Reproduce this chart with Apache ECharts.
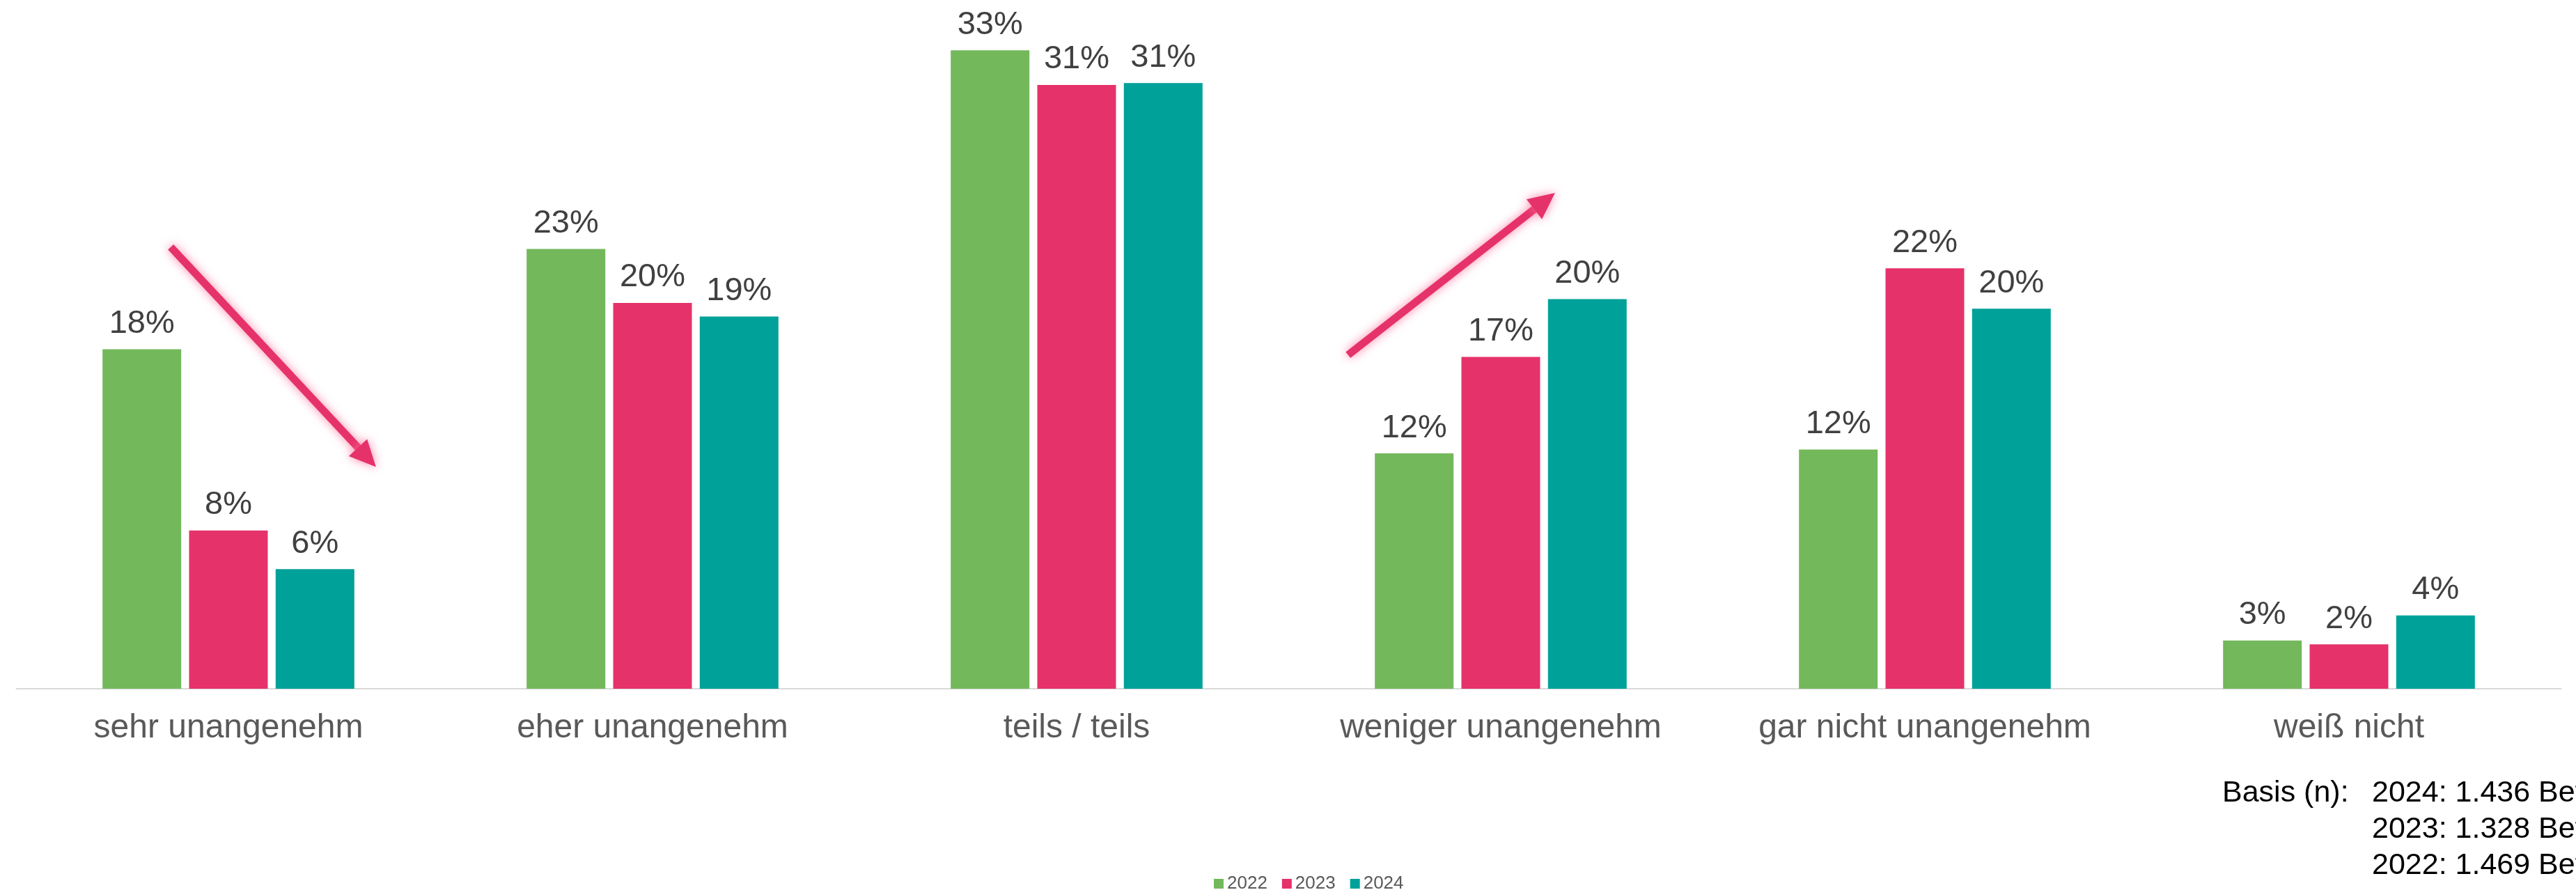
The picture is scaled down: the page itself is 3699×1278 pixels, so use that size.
<!DOCTYPE html>
<html>
<head>
<meta charset="utf-8">
<script src="https://cdn.jsdelivr.net/npm/echarts@6/dist/echarts.min.js"></script>
<style>
html, body { margin: 0; padding: 0; background: #fff; }
#main { width: 3699px; height: 1278px; }
</style>
</head>
<body>
<div id="main"></div>
<script>
var categories = ['sehr unangenehm', 'eher unangenehm', 'teils / teils', 'weniger unangenehm', 'gar nicht unangenehm', 'weiß nicht'];
var years = ['2022', '2023', '2024'];
var values2022 = [17.6, 22.8, 33.1, 12.2, 12.4, 2.5];
var values2023 = [8.2, 20.0, 31.3, 17.2, 21.8, 2.3];
var values2024 = [6.2, 19.3, 31.4, 20.2, 19.7, 3.8];
var colors = ['#73b85b', '#e6326a', '#00a199'];
var basisLines = ['2024: 1.436 Befragte', '2023: 1.328 Befragte', '2022: 1.469 Befragte'];
// Trendpfeile: [Kategorie-Position, Wert in %]
var arrowDown = [[-0.136, 22.9], [0.348, 11.5]];
var arrowUp = [[2.64, 17.3], [3.128, 25.7]];

var fontFam = '"Liberation Sans", Arial, sans-serif';
var myChart = echarts.init(document.getElementById('main'));

function barSeries(name, data, color) {
    return {
        name: name,
        type: 'bar',
        data: data,
        barWidth: 113,
        barGap: '10%',
        itemStyle: { color: color },
        label: {
            show: true,
            position: 'top',
            distance: 13,
            fontSize: 47,
            fontFamily: fontFam,
            color: '#404040',
            formatter: function (p) { return Math.round(p.value) + '%'; }
        }
    };
}

var option = {
    animation: false,
    backgroundColor: '#fff',
    grid: { left: 23.5, right: 21.5, top: 19.5, bottom: 289 },
    legend: {
        data: years,
        left: 1738,
        top: 1251,
        icon: 'rect',
        itemWidth: 14,
        itemHeight: 14,
        itemGap: 21,
        textStyle: { fontSize: 26, color: '#595959', fontFamily: fontFam }
    },
    xAxis: {
        type: 'category',
        data: categories,
        axisLine: { lineStyle: { color: '#d9d9d9', width: 2 } },
        axisTick: { show: false },
        axisLabel: { interval: 0, margin: 33, fontSize: 48, color: '#595959', fontFamily: fontFam }
    },
    yAxis: {
        type: 'value',
        min: 0,
        max: 35,
        show: false,
        splitLine: { show: false }
    },
    series: [
        barSeries(years[0], values2022, colors[0]),
        barSeries(years[1], values2023, colors[1]),
        barSeries(years[2], values2024, colors[2])
    ]
};
myChart.setOption(option);

// Pfeile aus Datenkoordinaten berechnen
function toPx(pt) {
    var a = myChart.convertToPixel({ gridIndex: 0 }, [0, pt[1]]);
    var b = myChart.convertToPixel({ gridIndex: 0 }, [1, pt[1]]);
    return [a[0] + (b[0] - a[0]) * pt[0], a[1]];
}

function arrowGraphics(pts) {
    var s = toPx(pts[0]), t = toPx(pts[1]);
    var dx = t[0] - s[0], dy = t[1] - s[1];
    var len = Math.sqrt(dx * dx + dy * dy);
    var ux = dx / len, uy = dy / len;
    var nx = -uy, ny = ux;
    var headLen = 38, headW = 36;
    var bx = t[0] - ux * headLen, by = t[1] - uy * headLen;
    var glow = { shadowBlur: 14, shadowColor: 'rgba(255,110,155,0.85)' };
    return [
        {
            type: 'line',
            shape: { x1: s[0], y1: s[1], x2: bx + ux * 4, y2: by + uy * 4 },
            style: Object.assign({ stroke: colors[1], lineWidth: 11, lineCap: 'butt' }, glow),
            z: 10
        },
        {
            type: 'polygon',
            shape: { points: [[t[0], t[1]], [bx + nx * headW / 2, by + ny * headW / 2], [bx - nx * headW / 2, by - ny * headW / 2]] },
            style: Object.assign({ fill: colors[1] }, glow),
            z: 10
        }
    ];
}

var gfx = [].concat(arrowGraphics(arrowDown), arrowGraphics(arrowUp));
gfx.push({
    type: 'text',
    x: 3191,
    y: 1113,
    style: { text: 'Basis (n):', fontSize: 43, fontFamily: fontFam, fill: '#000', lineHeight: 52, verticalAlign: 'top' }
});
gfx.push({
    type: 'text',
    x: 3406,
    y: 1113,
    style: { text: basisLines.join('\n'), fontSize: 43, fontFamily: fontFam, fill: '#000', lineHeight: 52, verticalAlign: 'top' }
});
myChart.setOption({ graphic: gfx });
</script>
</body>
</html>
